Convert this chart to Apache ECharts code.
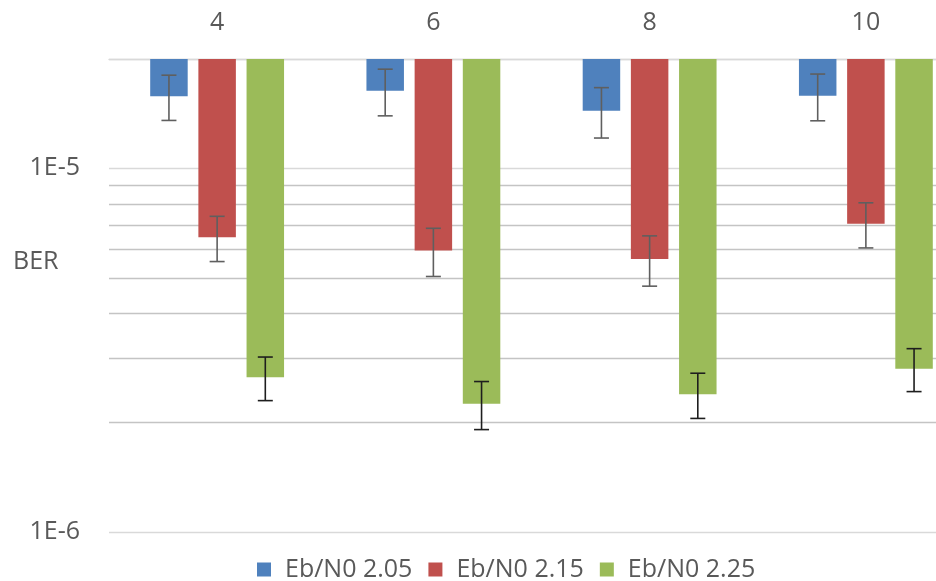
<!DOCTYPE html>
<html>
<head>
<meta charset="utf-8">
<title>BER</title>
<script src="https://cdn.jsdelivr.net/npm/echarts@6/dist/echarts.min.js"></script>
<style>
  html, body { margin: 0; padding: 0; background: #ffffff; }
  #chart { width: 936px; height: 581px; }
</style>
</head>
<body>
<div id="chart"></div>
<script>
// Categories along the top axis
const categories = ['4', '6', '8', '10'];
const seriesNames = ['Eb/N0 2.05', 'Eb/N0 2.15', 'Eb/N0 2.25'];

// Mean BER per category for each Eb/N0
const ber205 = [1.58e-5, 1.635e-5, 1.44e-5, 1.585e-5];
const ber215 = [6.46e-6, 5.94e-6, 5.63e-6, 7.04e-6];
const ber225 = [2.66e-6, 2.25e-6, 2.39e-6, 2.81e-6];

// Error bar half-widths (same units as BER)
const err205 = [0.225e-5, 0.24e-5, 0.228e-5, 0.233e-5];
const err215 = [0.92e-6, 0.90e-6, 0.89e-6, 1.0e-6];
const err225 = [0.365e-6, 0.34e-6, 0.34e-6, 0.38e-6];

// Log axis range and horizontal reference lines
const yMin = 1e-6;
const yMax = 2e-5;
const majorLines = [1e-6, 1e-5, 2e-5];
const minorLines = [2e-6, 3e-6, 4e-6, 5e-6, 6e-6, 7e-6, 8e-6, 9e-6];

const FONT = '"Open Sans", "DejaVu Sans", sans-serif';
const TEXT = '#595959';
const colors = ['#4F81BD', '#C0504D', '#9BBB59'];
const errColors = ['#5f5f5f', '#5f5f5f', '#1e1e1e'];
const BAR_RATIO = 0.1734;   // bar width / category band
const STEP_RATIO = 0.2228;  // distance between bar centres / category band
const CAP = 7.5;            // half width of error bar caps

const values = [ber205, ber215, ber225];
const errors = [err205, err215, err225];

function barSeries(k) {
  return {
    name: seriesNames[k],
    type: 'custom',
    itemStyle: { color: colors[k] },
    encode: { x: 0, y: 1 },
    data: categories.map((c, i) => [i, values[k][i], errors[k][i]]),
    z: 3,
    renderItem: function (params, api) {
      const idx = api.value(0);
      const v = api.value(1);
      const e = api.value(2);
      const band = api.size([1, 0])[0];
      const barW = band * BAR_RATIO;
      const cx = api.coord([idx, yMax])[0] + (k - 1) * band * STEP_RATIO;
      const yTop = api.coord([idx, yMax])[1];
      const yVal = api.coord([idx, v])[1];
      const yHi = api.coord([idx, v + e])[1];
      const yLo = api.coord([idx, v - e])[1];
      const lineStyle = { stroke: errColors[k], lineWidth: 1.6 };
      return {
        type: 'group',
        children: [
          {
            type: 'rect',
            shape: { x: cx - barW / 2, y: yTop, width: barW, height: yVal - yTop },
            style: { fill: colors[k] }
          },
          { type: 'line', shape: { x1: cx, y1: yHi, x2: cx, y2: yLo }, style: lineStyle },
          { type: 'line', shape: { x1: cx - CAP, y1: yHi, x2: cx + CAP, y2: yHi }, style: lineStyle },
          { type: 'line', shape: { x1: cx - CAP, y1: yLo, x2: cx + CAP, y2: yLo }, style: lineStyle }
        ]
      };
    }
  };
}

function gridLineSeries(list, color) {
  return {
    type: 'custom',
    silent: true,
    z: 1,
    encode: { x: 0, y: 1 },
    data: list.map(v => [0, v]),
    renderItem: function (params, api) {
      const cs = params.coordSys;
      const y = Math.round(api.coord([0, api.value(1)])[1]) + 0.5;
      return {
        type: 'line',
        shape: { x1: cs.x, y1: y, x2: cs.x + cs.width, y2: y },
        style: { stroke: color, lineWidth: 1.4 }
      };
    }
  };
}

const chart = echarts.init(document.getElementById('chart'), null, { renderer: 'canvas' });

chart.setOption({
  animation: false,
  backgroundColor: '#ffffff',
  textStyle: { fontFamily: FONT },
  grid: {
    left: 109,
    top: 59,
    width: 865,
    height: 472.7,
    containLabel: false,
    outerBoundsMode: 'none'
  },
  legend: {
    data: seriesNames,
    left: 252,
    top: 552,
    icon: 'rect',
    itemWidth: 14,
    itemHeight: 14,
    itemGap: 16,
    textStyle: { fontFamily: FONT, fontSize: 25, color: TEXT, padding: [0, 0, 0, 9] }
  },
  graphic: [
    {
      type: 'text',
      left: 13,
      top: 249,
      style: { text: 'BER', font: '25px ' + FONT, fill: TEXT }
    }
  ],
  xAxis: {
    type: 'category',
    position: 'top',
    data: categories,
    axisLine: { show: true, lineStyle: { color: '#d9d9d9', width: 1.4 } },
    axisTick: { show: false },
    axisLabel: { margin: 24, fontSize: 25, color: TEXT, fontFamily: FONT },
    splitLine: { show: false }
  },
  yAxis: {
    type: 'log',
    logBase: 10,
    min: yMin,
    max: yMax,
    axisLine: { show: false },
    axisTick: { show: false },
    splitLine: { show: false },
    axisLabel: {
      margin: 29,
      fontSize: 25,
      color: TEXT,
      fontFamily: FONT,
      showMaxLabel: false,
      formatter: function (val) {
        const e = Math.round(Math.log10(val));
        if (Math.abs(val / Math.pow(10, e) - 1) > 1e-6) return '';
        return '1E' + e;
      }
    }
  },
  series: [
    gridLineSeries(majorLines, '#d9d9d9'),
    gridLineSeries(minorLines, '#c4c4c4'),
    barSeries(0),
    barSeries(1),
    barSeries(2)
  ]
});
</script>
</body>
</html>
